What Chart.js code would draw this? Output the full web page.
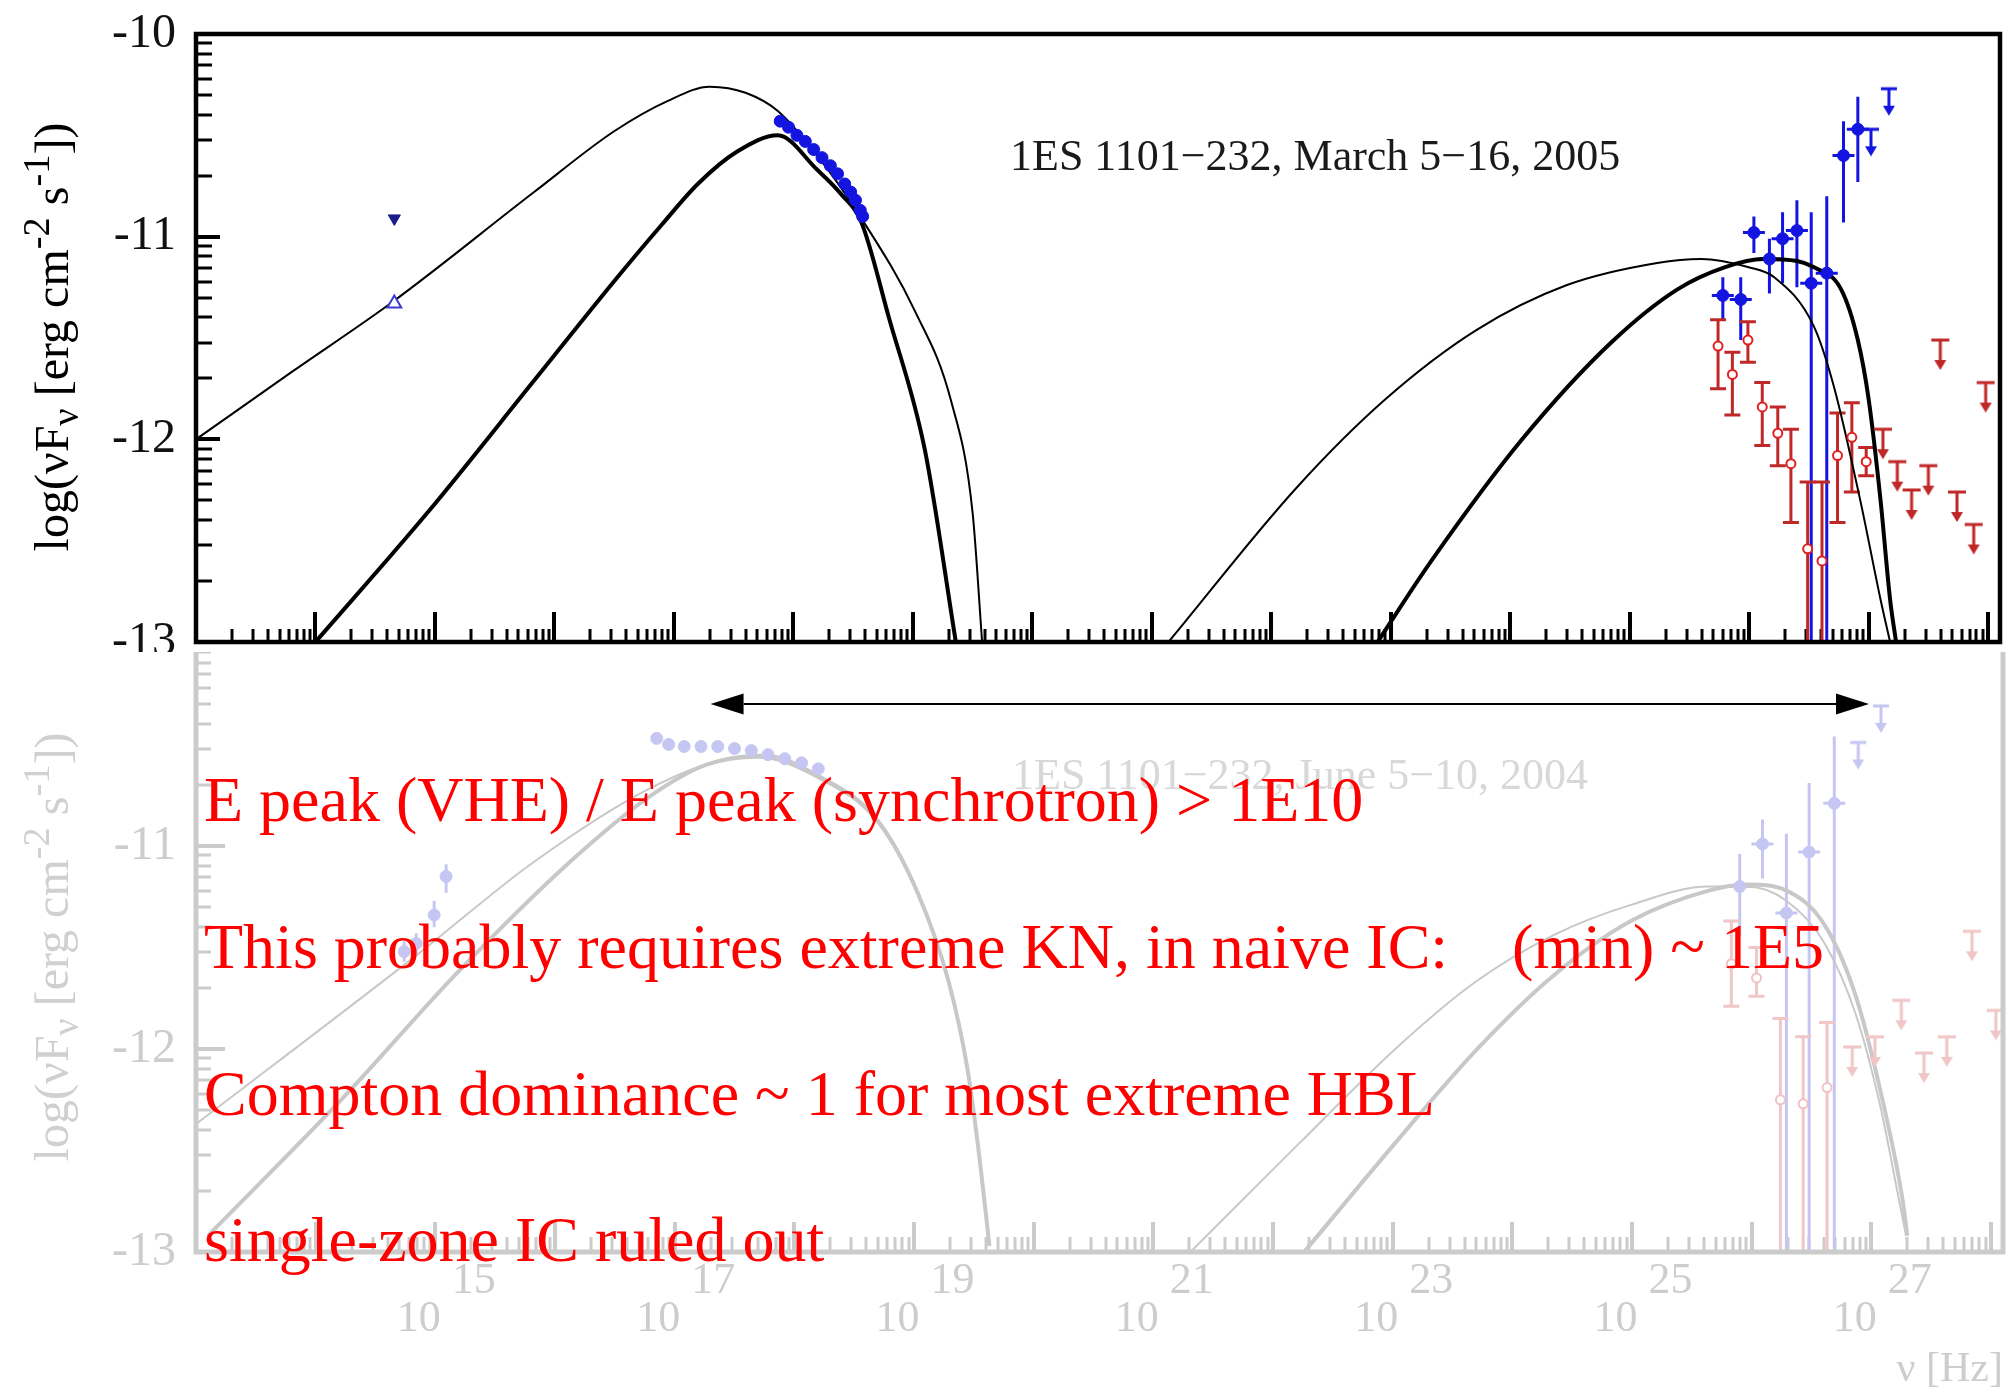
<!DOCTYPE html>
<html>
<head>
<meta charset="utf-8">
<script src="https://cdn.jsdelivr.net/npm/chart.js@4.4.1/dist/chart.umd.min.js"></script>
<style>
  body { margin: 0; background: #fff; }
  #page { position: relative; width: 2010px; height: 1397px; overflow: hidden; background: #fff;
          font-family: 'Liberation Serif', 'Times New Roman', serif; }
  canvas { position: absolute; left: 0; }
  #sedTop { top: 0; background: #fff; z-index: 2; }
  #sedBottom { top: 600px; z-index: 1; }
  .ytitle { position: absolute; width: 600px; height: 60px; line-height: 60px; font-size: 48px;
            text-align: center; white-space: nowrap; transform: rotate(-90deg); z-index: 3; }
  .ytitle sup, .ytitle sub { font-size: 0.8em; line-height: 0; }
  .ytitle sup { vertical-align: 0.5em; }
  .ytitle sub { vertical-align: -0.25em; }
  .label { position: absolute; white-space: pre; z-index: 3; font-size: 44px; line-height: 44px; }
  .note { position: absolute; left: 204px; font-size: 64px; line-height: 64px; color: #ff0000;
          white-space: pre; z-index: 4; }
</style>
</head>
<body>
<div id="page">
  <canvas id="sedBottom" width="2010" height="797"></canvas>
  <canvas id="sedTop" width="2010" height="652"></canvas>

  <div class="ytitle" style="left:-248px; top:307px; color:#000">log(νF<sub>ν</sub> [erg cm<sup>-2</sup> s<sup>-1</sup>])</div>
  <div class="ytitle" style="left:-248px; top:917px; color:#d0d0d0">log(νF<sub>ν</sub> [erg cm<sup>-2</sup> s<sup>-1</sup>])</div>

  <div class="label" style="left:1010px; top:134px; color:#1a1a1a">1ES 1101−232, March 5−16, 2005</div>
  <div class="label" style="left:1012px; top:753px; color:#d8d8d8">1ES 1101−232, June 5−10, 2004</div>

  <div class="note" style="top:768px">E peak (VHE) / E peak (synchrotron) &gt; 1E10</div>
  <div class="note" style="top:915px">This probably requires extreme KN, in naive IC:    (min) ~ 1E5</div>
  <div class="note" style="top:1062px">Compton dominance ~ 1 for most extreme HBL</div>
  <div class="note" style="top:1208px">single-zone IC ruled out</div>
</div>

<script>
Chart.defaults.font.family = "'Liberation Serif', 'Times New Roman', serif";

// axes: log10(nu / Hz) and log10(nuFnu / erg cm-2 s-1)
const nuRange = [13, 28.1];
const fluxRange = [-13, -10];
const yMajorValues = [-10, -11, -12, -13];
const yTickLabelsTop = ['-10', '-11', '-12', '-13'];
const yTickLabelsBottom = ['', '-11', '-12', '-13'];
const xLabelDecades = [15, 17, 19, 21, 23, 25, 27];
const decadeSteps = [2, 3, 4, 5, 6, 7, 8, 9];

// ---- upper panel: March 5-16, 2005 ----
// model curves [log nu, log nuFnu]
const marSynThin = [[13.0,-12.0],[13.82,-11.66],[14.65,-11.32],[15.83,-10.78],[16.5,-10.48],[16.95,-10.33],
  [17.3,-10.26],[17.60,-10.29],[17.87,-10.38],[18.20,-10.60],[18.57,-10.91],[19.02,-11.37],[19.32,-11.81],
  [19.50,-12.36],[19.58,-13.0]];
const marSynThick = [[14.0,-13.0],[14.94,-12.36],[15.83,-11.71],[16.5,-11.22],[16.9,-10.94],[17.2,-10.74],
  [17.53,-10.58],[17.87,-10.50],[18.20,-10.67],[18.40,-10.79],[18.57,-10.93],[18.80,-11.40],[19.10,-12.05],
  [19.36,-13.0]];
const marIcThin = [[21.14,-13.0],[22.21,-12.24],[22.96,-11.80],[23.72,-11.46],[24.47,-11.24],[25.23,-11.13],
  [25.60,-11.11],[25.99,-11.15],[26.21,-11.20],[26.54,-11.44],[26.71,-11.74],[26.93,-12.30],
  [27.10,-12.79],[27.18,-13.0]];
const marIcThick = [[22.89,-13.0],[23.34,-12.60],[24.10,-12.00],[24.85,-11.52],[25.40,-11.26],[25.80,-11.15],
  [26.12,-11.11],[26.40,-11.12],[26.54,-11.15],[26.77,-11.26],[26.91,-11.51],[27.00,-11.80],[27.10,-12.30],
  [27.18,-12.79],[27.23,-13.0]];
// data [log nu, log nuFnu, err top, err bottom]
const marXray = [[17.89,-10.43],[17.96,-10.46],[18.03,-10.50],[18.10,-10.53],[18.17,-10.57],[18.24,-10.61],
  [18.31,-10.65],[18.37,-10.69],[18.43,-10.74],[18.48,-10.78],[18.52,-10.82],[18.56,-10.87],[18.58,-10.90]];
const marOptLimit = [[14.66,-10.91]];
const marOptObs = [[14.66,-11.33]];
const marVheBlue = [[25.78,-11.29,-11.20,-11.41],[25.93,-11.31,-11.20,-11.51],[26.04,-10.98,-10.90,-11.08],
  [26.17,-11.11,-11.01,-11.28],[26.28,-11.01,-10.88,-11.23],[26.40,-10.97,-10.82,-11.25],
  [26.52,-11.23,-10.88,-13.0],[26.65,-11.18,-10.80,-13.0],[26.79,-10.60,-10.43,-10.93],[26.91,-10.47,-10.31,-10.73]];
const marVheBlueUL = [[27.02,-10.47],[27.17,-10.27]];
const marVheRed = [[25.74,-11.54,-11.41,-11.75],[25.86,-11.68,-11.57,-11.88],[25.99,-11.51,-11.42,-11.62],
  [26.11,-11.84,-11.72,-12.03],[26.24,-11.97,-11.84,-12.13],[26.35,-12.12,-11.95,-12.41],
  [26.49,-12.54,-12.21,-13.0],[26.61,-12.60,-12.21,-13.0],[26.74,-12.08,-11.87,-12.41],
  [26.86,-11.99,-11.82,-12.26],[26.98,-12.11,-12.04,-12.18]];
const marVheRedUL = [[27.12,-11.95],[27.24,-12.11],[27.36,-12.25],[27.50,-12.13],[27.60,-11.51],
  [27.74,-12.26],[27.88,-12.42],[27.98,-11.72]];

// ---- lower (faded) panel: June 5-10, 2004 ----
const junSynThin = [[13.0,-12.37],[14.86,-11.53],[15.82,-11.08],[16.78,-10.72],[17.42,-10.57],[17.75,-10.55],
  [18.20,-10.65],[18.70,-10.87],[19.03,-11.22],[19.29,-11.66],[19.45,-12.10],[19.55,-12.54],[19.63,-12.97]];
const junSynThick = [[13.1,-12.92],[14.23,-12.24],[15.19,-11.62],[16.14,-11.07],[16.78,-10.76],[17.26,-10.60],
  [17.70,-10.56],[18.20,-10.66],[18.70,-10.88],[19.03,-11.23],[19.29,-11.67],[19.45,-12.11],[19.55,-12.55],
  [19.63,-12.97]];
const junIcThin = [[21.31,-13.0],[22.21,-12.47],[23.04,-11.99],[23.69,-11.67],[24.34,-11.44],[24.99,-11.29],
  [25.64,-11.20],[25.96,-11.20],[26.29,-11.27],[26.61,-11.48],[26.87,-11.83],[27.07,-12.27],[27.23,-12.74],
  [27.29,-12.92]];
const junIcThick = [[22.26,-13.0],[23.04,-12.45],[23.69,-12.01],[24.34,-11.64],[24.99,-11.37],[25.64,-11.22],
  [25.96,-11.19],[26.29,-11.22],[26.61,-11.39],[26.87,-11.74],[27.10,-12.27],[27.26,-12.74],[27.30,-12.92]];
const junXray = [[16.85,-10.47],[16.95,-10.50],[17.08,-10.51],[17.22,-10.51],[17.36,-10.51],[17.50,-10.52],
  [17.64,-10.53],[17.78,-10.55],[17.92,-10.57],[18.06,-10.59],[18.20,-10.62]];
const junOpt = [[14.74,-11.52,-11.47,-11.57],[14.84,-11.48,-11.43,-11.53],[14.99,-11.34,-11.27,-11.40],
  [15.09,-11.15,-11.09,-11.23]];
const junVheBlue = [[25.90,-11.20,-11.04,-11.44],[26.09,-10.99,-10.87,-11.16],[26.29,-11.33,-10.94,-13.0],
  [26.48,-11.03,-10.69,-13.0],[26.69,-10.79,-10.46,-13.0]];
const junVheBlueUL = [[26.89,-10.49],[27.08,-10.31]];
const junVheRed = [[25.83,-11.58,-11.37,-11.79],[26.04,-11.65,-11.50,-11.74],[26.24,-12.25,-11.85,-13.0],
  [26.43,-12.27,-11.94,-13.0],[26.63,-12.19,-11.87,-13.0]];
const junVheRedUL = [[26.84,-11.99],[27.03,-11.94],[27.25,-11.76],[27.44,-12.02],[27.63,-11.94],
  [27.84,-11.42],[28.04,-11.81]];

// peak-to-peak arrow drawn across the lower panel
const arrowNu = [17.30, 26.98];
const arrowLevel = -10.30;

// ---------- helpers ----------
function logTicks(lo, hi) {
  const out = [];
  for (let d = Math.floor(lo); d <= Math.ceil(hi); d++) {
    if (d >= lo && d <= hi) out.push({ value: d, major: true });
    decadeSteps.forEach(k => {
      const v = d + Math.log10(k);
      if (v > lo && v < hi) out.push({ value: v, major: false });
    });
  }
  return out.sort((a, b) => a.value - b.value);
}

function ulGlyph(color, capW, stem, lw, head) {
  const c = document.createElement('canvas');
  c.width = capW + 4;
  c.height = 2 * stem + 4;
  const g = c.getContext('2d');
  const cx = c.width / 2, cy = c.height / 2;
  g.strokeStyle = color;
  g.fillStyle = color;
  g.lineWidth = lw;
  g.beginPath();
  g.moveTo(cx - capW / 2, cy); g.lineTo(cx + capW / 2, cy);
  g.moveTo(cx, cy); g.lineTo(cx, cy + stem - head);
  g.stroke();
  g.beginPath();
  g.moveTo(cx - head * 0.6, cy + stem - head);
  g.lineTo(cx + head * 0.6, cy + stem - head);
  g.lineTo(cx, cy + stem);
  g.closePath();
  g.fill();
  return c;
}

const curveSet = (rows, color, width) => ({
  data: rows.map(r => ({ x: r[0], y: r[1] })),
  showLine: true, borderColor: color, borderWidth: width, pointRadius: 0,
  cubicInterpolationMode: 'monotone', order: 5
});

const pointSet = (rows, style) => Object.assign({
  data: rows.map(r => ({ x: r[0], y: r[1] })),
  err: rows[0].length > 2 ? rows.map(r => [r[2], r[3]]) : null,
  showLine: false, order: 1
}, style);

function makeFrame(o) {
  return {
    id: 'sedFrame',
    beforeDatasetsDraw(chart) {
      const { ctx, chartArea: a, scales: { x, y } } = chart;
      ctx.save();
      ctx.strokeStyle = o.color;
      x.ticks.forEach(t => {
        const px = Math.round(x.getPixelForValue(t.value));
        ctx.lineWidth = t.major ? 4 : 3;
        ctx.beginPath();
        ctx.moveTo(px, a.bottom);
        ctx.lineTo(px, a.bottom - (t.major ? o.xMajor : o.xMinor));
        ctx.stroke();
      });
      y.ticks.forEach(t => {
        const py = Math.round(y.getPixelForValue(t.value));
        ctx.lineWidth = t.major ? 4 : 3;
        ctx.beginPath();
        ctx.moveTo(a.left, py);
        ctx.lineTo(a.left + (t.major ? o.yMajor : o.yMinor), py);
        ctx.stroke();
      });
      ctx.restore();
    },
    afterDatasetsDraw(chart) {
      const { ctx, chartArea: a } = chart;
      ctx.save();
      ctx.strokeStyle = o.color;
      ctx.lineWidth = o.frameWidth;
      ctx.strokeRect(a.left, a.top, a.right - a.left, a.bottom - a.top);
      ctx.restore();
    }
  };
}

const errorBars = {
  id: 'errorBars',
  beforeDatasetsDraw(chart) {
    const { ctx, chartArea: a, scales: { x, y } } = chart;
    ctx.save();
    ctx.beginPath();
    ctx.rect(a.left, a.top, a.right - a.left, a.bottom - a.top);
    ctx.clip();
    chart.data.datasets.forEach(ds => {
      if (!ds.err) return;
      ctx.strokeStyle = ds.errColor;
      ctx.lineWidth = ds.errWidth;
      ds.data.forEach((p, i) => {
        const px = x.getPixelForValue(p.x);
        const py = y.getPixelForValue(p.y);
        const yt = y.getPixelForValue(ds.err[i][0]);
        const yb = y.getPixelForValue(ds.err[i][1]);
        ctx.beginPath();
        ctx.moveTo(px, yt); ctx.lineTo(px, yb);
        if (ds.capWidth) {
          const c = ds.capWidth / 2;
          ctx.moveTo(px - c, yt); ctx.lineTo(px + c, yt);
          ctx.moveTo(px - c, yb); ctx.lineTo(px + c, yb);
        }
        if (ds.xBar) { ctx.moveTo(px - ds.xBar, py); ctx.lineTo(px + ds.xBar, py); }
        ctx.stroke();
      });
    });
    ctx.restore();
  }
};

const spanArrow = {
  id: 'spanArrow',
  afterDraw(chart) {
    const { ctx, scales: { x, y } } = chart;
    const x1 = x.getPixelForValue(arrowNu[0]);
    const x2 = x.getPixelForValue(arrowNu[1]);
    const py = y.getPixelForValue(arrowLevel);
    const L = 33, H = 10.5;
    ctx.save();
    ctx.strokeStyle = '#000';
    ctx.fillStyle = '#000';
    ctx.lineWidth = 2;
    ctx.beginPath(); ctx.moveTo(x1 + L, py); ctx.lineTo(x2 - L, py); ctx.stroke();
    ctx.beginPath(); ctx.moveTo(x1, py); ctx.lineTo(x1 + L, py - H); ctx.lineTo(x1 + L, py + H); ctx.closePath(); ctx.fill();
    ctx.beginPath(); ctx.moveTo(x2, py); ctx.lineTo(x2 - L, py - H); ctx.lineTo(x2 - L, py + H); ctx.closePath(); ctx.fill();
    ctx.restore();
  }
};

const NB = '\u00A0';
const xTickLabels = xLabelDecades.map(d => [NB.repeat(7) + d, '10' + NB.repeat(3)]);

function panelOptions(cfg) {
  return {
    responsive: false,
    animation: false,
    events: [],
    layout: { padding: { top: cfg.padTop, right: 4, bottom: 0, left: 0 } },
    plugins: { legend: { display: false }, tooltip: { enabled: false } },
    scales: {
      x: {
        type: 'linear', min: nuRange[0], max: nuRange[1],
        grid: { display: false, drawTicks: false }, border: { display: false },
        ticks: {
          display: cfg.xLabels, autoSkip: false, maxRotation: 0, minRotation: 0, padding: 11,
          color: cfg.textColor, font: { size: 44, lineHeight: 0.85 },
          callback: v => { const i = xLabelDecades.indexOf(v); return i >= 0 ? xTickLabels[i] : ''; }
        },
        title: {
          display: cfg.xLabels, text: 'ν [Hz]', align: 'end', color: cfg.textColor,
          font: { size: 42, lineHeight: 1.2 }, padding: { top: 0, bottom: 2 }
        },
        afterBuildTicks: s => { s.ticks = logTicks(s.min, s.max); },
        afterFit: s => { s.height = cfg.xHeight; s.paddingLeft = 0; s.paddingRight = 0; }
      },
      y: {
        type: 'linear', min: fluxRange[0], max: fluxRange[1],
        grid: { display: false, drawTicks: false }, border: { display: false },
        ticks: {
          autoSkip: false, padding: 20, color: cfg.textColor, font: { size: 48 },
          callback: v => { const i = yMajorValues.indexOf(v); return i >= 0 ? cfg.yLabels[i] : ''; }
        },
        afterBuildTicks: s => { s.ticks = logTicks(s.min, s.max); },
        afterFit: s => { s.width = 196; s.paddingTop = 0; s.paddingBottom = 0; }
      }
    }
  };
}

function panelDatasets(c, d) {
  return [
    pointSet(d.blueUL, { pointStyle: ulGlyph(c.blue, 16, 27, 3, 10), pointRadius: 5 }),
    pointSet(d.blue, { pointRadius: 6, pointBackgroundColor: c.blue, pointBorderColor: c.blue,
      errColor: c.blue, errWidth: 3, xBar: 11 }),
    pointSet(d.redUL, { pointStyle: ulGlyph(c.redBar, 18, 30, 3, 10), pointRadius: 5 }),
    pointSet(d.red, { pointRadius: 4.5, pointBackgroundColor: '#fff', pointBorderColor: c.red,
      pointBorderWidth: 2, errColor: c.redBar, errWidth: 3, capWidth: 16 }),
    pointSet(d.xray, { pointRadius: 6, pointBackgroundColor: c.blue, pointBorderColor: c.blue }),
    ...d.extra,
    curveSet(d.synThin, c.line, 2),
    curveSet(d.synThick, c.line, 4),
    curveSet(d.icThin, c.line, 2),
    curveSet(d.icThick, c.line, 4)
  ];
}

// ---------- upper panel ----------
const topColors = { line: '#000', blue: '#1414e0', red: '#e02020', redBar: '#c02828' };
new Chart(document.getElementById('sedTop'), {
  type: 'scatter',
  data: {
    datasets: panelDatasets(topColors, {
      synThin: marSynThin, synThick: marSynThick, icThin: marIcThin, icThick: marIcThick,
      xray: marXray, blue: marVheBlue, blueUL: marVheBlueUL, red: marVheRed, redUL: marVheRedUL,
      extra: [
        pointSet(marOptLimit, { pointStyle: 'triangle', pointRotation: 180, pointRadius: 7,
          pointBackgroundColor: '#1c1c8c', pointBorderColor: '#1c1c8c' }),
        pointSet(marOptObs, { pointStyle: 'triangle', pointRadius: 8, pointBackgroundColor: '#fff',
          pointBorderColor: '#3a3ad0', pointBorderWidth: 2 })
      ]
    })
  },
  options: panelOptions({ padTop: 34, xHeight: 9, xLabels: false, textColor: '#111', yLabels: yTickLabelsTop }),
  plugins: [makeFrame({ color: '#000', frameWidth: 4.5, xMajor: 30, xMinor: 13, yMajor: 24, yMinor: 16 }), errorBars]
});

// ---------- lower (faded) panel ----------
const fadedColors = { line: '#c8c8c8', blue: '#c6c6f2', red: '#f0c2c2', redBar: '#f0c6c6' };
new Chart(document.getElementById('sedBottom'), {
  type: 'scatter',
  data: {
    datasets: panelDatasets(fadedColors, {
      synThin: junSynThin, synThick: junSynThick, icThin: junIcThin, icThick: junIcThick,
      xray: junXray, blue: junVheBlue, blueUL: junVheBlueUL, red: junVheRed, redUL: junVheRedUL,
      extra: [
        pointSet(junOpt, { pointRadius: 6, pointBackgroundColor: fadedColors.blue,
          pointBorderColor: fadedColors.blue, errColor: fadedColors.blue, errWidth: 3 })
      ]
    })
  },
  options: panelOptions({ padTop: 43, xHeight: 145, xLabels: true, textColor: '#cdcdcd', yLabels: yTickLabelsBottom }),
  plugins: [makeFrame({ color: '#cbcbcb', frameWidth: 5, xMajor: 30, xMinor: 15, yMajor: 29, yMinor: 15 }), errorBars, spanArrow]
});
</script>
</body>
</html>
